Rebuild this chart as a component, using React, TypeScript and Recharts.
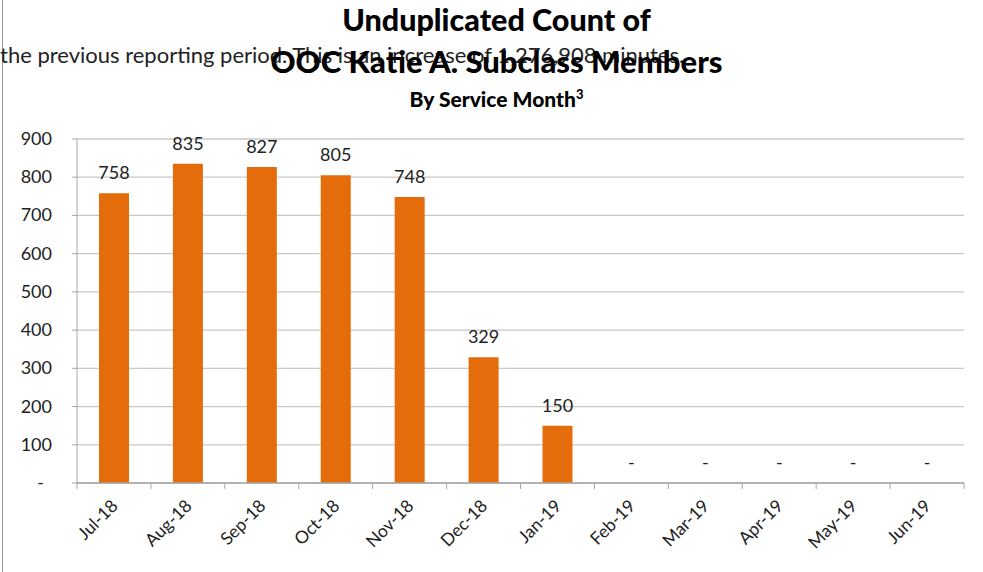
import React from "react";
import {
  BarChart,
  Bar,
  XAxis,
  YAxis,
  CartesianGrid,
  LabelList,
} from "recharts";

const months = [
  "Jul-18", "Aug-18", "Sep-18", "Oct-18", "Nov-18", "Dec-18",
  "Jan-19", "Feb-19", "Mar-19", "Apr-19", "May-19", "Jun-19",
];
const members = [758, 835, 827, 805, 748, 329, 150, 0, 0, 0, 0, 0];
const yTicks = [0, 100, 200, 300, 400, 500, 600, 700, 800, 900];

const data = months.map((m, i) => ({ month: m, value: members[i] }));

const W = 983;
const H = 572;
const PLOT_LEFT = 77;
const PLOT_RIGHT = 964;
const PLOT_TOP = 139;
const PLOT_BOTTOM = 483;
const BAND = (PLOT_RIGHT - PLOT_LEFT) / months.length;

const FONT = "Lato, 'Open Sans', sans-serif";
const ORANGE = "#E46C0A";
const AXIS = "#a6a6a6";
const GRID = "#c8c8c8";

const fmt = (v: number) => (v === 0 ? "-" : String(v));

function XTick(props: any) {
  const { x, y, payload, index } = props;
  const left = x - BAND / 2;
  const tx = x + 5;
  const ty = y + 16;
  return (
    <g>
      <line x1={left} y1={PLOT_BOTTOM} x2={left} y2={PLOT_BOTTOM + 6} stroke={AXIS} />
      {index === months.length - 1 && (
        <line x1={x + BAND / 2} y1={PLOT_BOTTOM} x2={x + BAND / 2} y2={PLOT_BOTTOM + 6} stroke={AXIS} />
      )}
      <text
        x={tx}
        y={ty}
        textAnchor="end"
        fontSize={17.5}
        fill="#222"
        fontFamily={FONT}
        transform={`rotate(-45, ${tx}, ${ty})`}
      >
        {payload.value}
      </text>
    </g>
  );
}

function YTick(props: any) {
  const { x, y, payload } = props;
  const zero = payload.value === 0;
  return (
    <text
      x={zero ? x - 8 : x}
      y={y}
      dy={6}
      textAnchor="end"
      fontSize={18}
      fill="#222"
      fontFamily={FONT}
    >
      {fmt(payload.value)}
    </text>
  );
}

function ValueLabel(props: any) {
  const { x, y, width, value } = props;
  return (
    <text
      x={x + width / 2}
      y={y - 14}
      textAnchor="middle"
      fontSize={18}
      fill="#222"
      fontFamily={FONT}
    >
      {fmt(Number(value))}
    </text>
  );
}

export default function App() {
  return (
    <div style={{ position: "absolute", left: 0, top: 0, width: W, height: H, background: "#fff", overflow: "hidden" }}>
      <div style={{ position: "absolute", left: 2, top: 0, width: 1, height: H, background: "#999" }} />
      <div
        style={{
          position: "absolute", left: 0, top: 41, whiteSpace: "nowrap",
          fontFamily: FONT, fontSize: 22, color: "#222",
        }}
      >
        the previous reporting period. This is an increase of 1,276,908 minutes.
      </div>
      <div
        style={{
          position: "absolute", left: 0, width: W + 10, top: -2, textAlign: "center",
          fontFamily: FONT, fontWeight: 900, color: "#000",
        }}
      >
        <div style={{ fontSize: 30.5, lineHeight: "42px" }}>Unduplicated Count of</div>
        <div style={{ fontSize: 31, lineHeight: "42px" }}>OOC Katie A. Subclass Members</div>
        <div style={{ fontSize: 21, lineHeight: "34px" }}>
          By Service Month
          <sup style={{ fontSize: 13, lineHeight: 0, verticalAlign: "super" }}>3</sup>
        </div>
      </div>
      <div style={{ position: "absolute", left: 0, top: 0 }}>
        <BarChart
          width={W}
          height={H}
          data={data}
          margin={{ top: PLOT_TOP, right: W - PLOT_RIGHT, bottom: 0, left: 0 }}
          barSize={30}
        >
          <CartesianGrid vertical={false} stroke={GRID} strokeWidth={1.3} />
          <XAxis
            dataKey="month"
            stroke={AXIS}
            strokeWidth={1.5}
            tickLine={false}
            tick={<XTick />}
            interval={0}
            height={H - PLOT_BOTTOM}
          />
          <YAxis
            domain={[0, 900]}
            ticks={yTicks}
            width={PLOT_LEFT}
            stroke={AXIS}
            tickSize={5}
            tickMargin={20}
            tick={<YTick />}
            interval={0}
          />
          <Bar
            dataKey="value"
            fill={ORANGE}
            isAnimationActive={false}
            minPointSize={(v: any) => (Number(v) === 0 ? 0.01 : 0)}
          >
            <LabelList dataKey="value" content={<ValueLabel />} />
          </Bar>
        </BarChart>
      </div>
    </div>
  );
}
